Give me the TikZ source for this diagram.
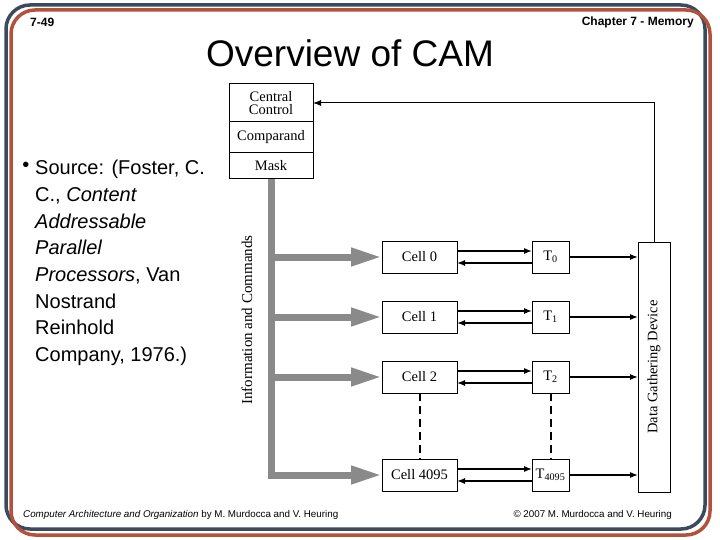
\documentclass[tikz,border=0pt]{standalone}
\usepackage{fontspec}
\setmainfont{Liberation Sans}
\newfontfamily\figfont{Liberation Serif}
\usetikzlibrary{arrows.meta,positioning}

\definecolor{frameblue}{HTML}{3B4A5C}
\definecolor{framered}{HTML}{B4513C}
\definecolor{busgray}{HTML}{8A8A8A}

\tikzset{
  box/.style={draw,line width=1pt,inner sep=0pt,outer sep=0pt,
    font=\figfont\fontsize{14.5}{13}\selectfont},
  cellbox/.style={box,minimum width=75pt,minimum height=32pt},
  tbox/.style={box,minimum width=37pt,minimum height=32pt},
  arr/.style={-{Latex[length=8pt,width=6pt]},line width=1.3pt},
  bus/.style={busgray,line width=7pt,line join=miter,
    -{Triangle[length=31pt,width=17pt]}},
  dashline/.style={line width=2pt,dash pattern=on 8pt off 5pt},
  frame/.style={line width=3.5pt,rounded corners=24pt},
  foot/.style={inner sep=0pt,font=\fontsize{9.8}{11}\selectfont},
}

\begin{document}
\begin{tikzpicture}[x=1pt,y=-1pt]
\useasboundingbox (0,0) rectangle (720,540);
\draw[frame,frameblue] (6,5) rectangle (705,529);
\draw[frame,framered] (11,10) rectangle (710,535);

% header and footer
\node[anchor=west,inner sep=0pt,font=\bfseries\fontsize{12}{14}\selectfont] (pagenum) at (30,22) {7-49};
\node[anchor=east,inner sep=0pt,font=\bfseries\fontsize{12}{14}\selectfont] (chapter) at (694,22) {Chapter 7 - Memory};
\node[font=\fontsize{37}{40}\selectfont] (title) at (350,53) {Overview of CAM};
\node[foot,anchor=west] (footleft) at (23,515)
  {\textit{Computer Architecture and Organization} by M. Murdocca and V. Heuring};
\node[foot,anchor=east] (footright) at (672,515)
  {© 2007 M. Murdocca and V. Heuring};

% bullet text
\node[font=\fontsize{20}{26.7}\selectfont] (bullet) at (26,167) {\textbullet};
\node[anchor=north west,align=left,inner sep=0pt,font=\fontsize{20}{26.7}\selectfont] (source) at (35,160)
  {Source: (Foster, C.\\C., \textit{Content}\\\textit{Addressable}\\\textit{Parallel}\\
   \textit{Processors}, Van\\Nostrand\\Reinhold\\Company, 1976.)};

% control stack
\node[box,minimum width=84pt,minimum height=38pt,align=center] (cc) at (271,103) {Central\\Control};
\node[box,minimum width=84pt,minimum height=31pt,below=0pt of cc] (cmp) {Comparand};
\node[box,minimum width=84pt,minimum height=26pt,below=0pt of cmp] (mask) {Mask};

% cells and tag bits
\node[cellbox] (c0) at (419.5,257) {Cell 0};
\node[cellbox] (c1) at (419.5,317) {Cell 1};
\node[cellbox] (c2) at (419.5,377) {Cell 2};
\node[cellbox] (c4095) at (419.5,475) {Cell 4095};
\node[tbox] (t0) at (550.5,257) {T\textsubscript{0}};
\node[tbox] (t1) at (550.5,317) {T\textsubscript{1}};
\node[tbox] (t2) at (550.5,377) {T\textsubscript{2}};
\node[tbox] (t4095) at (550.5,475) {T\textsubscript{4095}};

\node[box,minimum width=32pt,minimum height=250pt] (dgd) at (654,367) {};
\node[rotate=90,font=\figfont\fontsize{14.5}{15}\selectfont] (dgdlabel) at (dgd.center) {Data Gathering Device};
\node[rotate=90,font=\figfont\fontsize{15}{16}\selectfont] (info) at (247,320) {Information and Commands};

% bus
\draw[bus] (mask.south) -- (mask.south |- c4095.west) -- (c4095.west);
\draw[bus] (mask.south |- c0.west) -- (c0.west);
\draw[bus] (mask.south |- c1.west) -- (c1.west);
\draw[bus] (mask.south |- c2.west) -- (c2.west);

% cell <-> tag
\draw[arr] ([yshift=6pt]c0.east) -- ([yshift=6pt]t0.west);
\draw[arr] ([yshift=-6pt]t0.west) -- ([yshift=-6pt]c0.east);
\draw[arr] ([yshift=6pt]c1.east) -- ([yshift=6pt]t1.west);
\draw[arr] ([yshift=-6pt]t1.west) -- ([yshift=-6pt]c1.east);
\draw[arr] ([yshift=6pt]c2.east) -- ([yshift=6pt]t2.west);
\draw[arr] ([yshift=-6pt]t2.west) -- ([yshift=-6pt]c2.east);
\draw[arr] ([yshift=6pt]c4095.east) -- ([yshift=6pt]t4095.west);
\draw[arr] ([yshift=-6pt]t4095.west) -- ([yshift=-6pt]c4095.east);

% tag -> data gathering
\draw[arr] (t0.east) -- (t0.east -| dgd.west);
\draw[arr] (t1.east) -- (t1.east -| dgd.west);
\draw[arr] (t2.east) -- (t2.east -| dgd.west);
\draw[arr] (t4095.east) -- (t4095.east -| dgd.west);

\draw[dashline] (c2.south) -- (c4095.north);
\draw[dashline] (t2.south) -- (t4095.north);

% feedback to central control
\draw[arr,line width=1pt] (dgd.north) |- (cc.east);
\end{tikzpicture}
\end{document}
